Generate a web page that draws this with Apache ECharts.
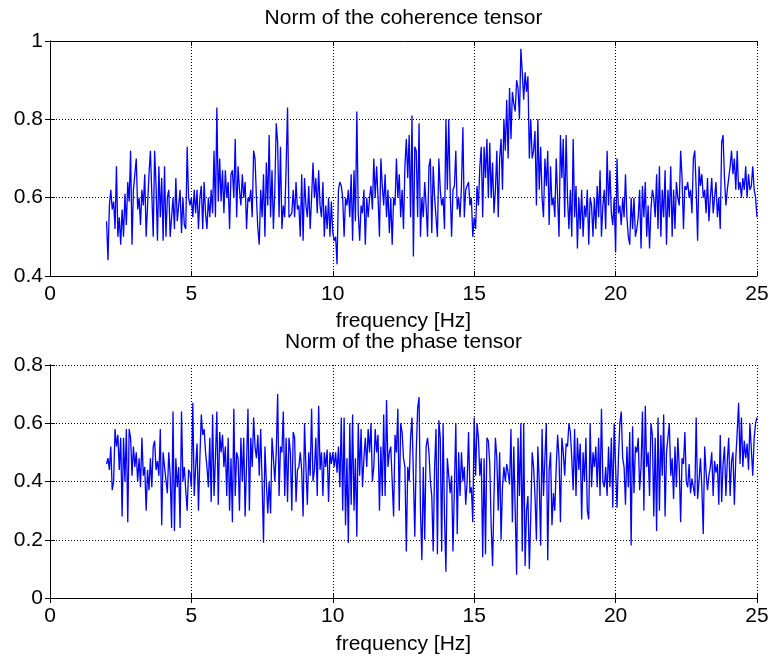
<!DOCTYPE html>
<html>
<head>
<meta charset="utf-8">
<script src="https://cdn.jsdelivr.net/npm/echarts@6/dist/echarts.min.js"></script>
<style>
  html, body { margin: 0; padding: 0; background: #fff; }
  #chart { width: 772px; height: 664px; }
</style>
</head>
<body>
<div id="chart"></div>
<script>
// ============================================================
// Norm of the coherence / phase tensor vs frequency
// samples every 0.05 Hz from 2 Hz to 25 Hz (one row = 1 Hz)
// ============================================================

var FREQ_START = 2;
var FREQ_STEP = 0.05;

var X_TICKS = [0, 5, 10, 15, 20, 25];
var COH_Y_TICKS = [0.4, 0.6, 0.8, 1];
var PHASE_Y_TICKS = [0, 0.2, 0.4, 0.6, 0.8];

var cohNorm = [
  0.54, 0.44, 0.58, 0.62, 0.57, 0.59, 0.52, 0.68, 0.50, 0.55, 0.48, 0.57, 0.50, 0.61, 0.53, 0.64, 0.59, 0.72, 0.48, 0.62,
  0.62, 0.70, 0.57, 0.60, 0.53, 0.62, 0.58, 0.66, 0.50, 0.58, 0.66, 0.72, 0.72, 0.50, 0.72, 0.63, 0.49, 0.68, 0.55, 0.65,
  0.49, 0.68, 0.50, 0.60, 0.62, 0.50, 0.55, 0.60, 0.52, 0.65, 0.54, 0.58, 0.62, 0.51, 0.60, 0.53, 0.52, 0.73, 0.60, 0.58,
  0.60, 0.55, 0.62, 0.56, 0.62, 0.52, 0.60, 0.63, 0.52, 0.64, 0.56, 0.52, 0.60, 0.55, 0.62, 0.56, 0.72, 0.55, 0.83, 0.59,
  0.70, 0.59, 0.67, 0.56, 0.67, 0.60, 0.64, 0.52, 0.66, 0.67, 0.60, 0.75, 0.55, 0.68, 0.62, 0.58, 0.66, 0.60, 0.64, 0.52,
  0.60, 0.59, 0.62, 0.55, 0.72, 0.70, 0.60, 0.52, 0.48, 0.62, 0.55, 0.66, 0.50, 0.69, 0.58, 0.76, 0.55, 0.67, 0.52, 0.62,
  0.79, 0.74, 0.55, 0.73, 0.52, 0.58, 0.55, 0.68, 0.83, 0.55, 0.55, 0.56, 0.62, 0.55, 0.64, 0.57, 0.58, 0.50, 0.66, 0.49,
  0.65, 0.58, 0.55, 0.63, 0.52, 0.60, 0.69, 0.60, 0.65, 0.56, 0.67, 0.58, 0.55, 0.64, 0.50, 0.58, 0.52, 0.60, 0.50, 0.59,
  0.51, 0.49, 0.50, 0.43, 0.62, 0.64, 0.63, 0.60, 0.50, 0.60, 0.58, 0.62, 0.55, 0.66, 0.49, 0.67, 0.54, 0.82, 0.56, 0.49,
  0.58, 0.56, 0.62, 0.48, 0.60, 0.55, 0.60, 0.63, 0.57, 0.70, 0.60, 0.68, 0.60, 0.50, 0.70, 0.63, 0.58, 0.66, 0.55, 0.62,
  0.51, 0.60, 0.48, 0.60, 0.58, 0.70, 0.60, 0.66, 0.55, 0.62, 0.52, 0.68, 0.75, 0.65, 0.76, 0.55, 0.81, 0.45, 0.73, 0.72,
  0.55, 0.79, 0.50, 0.60, 0.55, 0.64, 0.58, 0.50, 0.68, 0.70, 0.51, 0.68, 0.60, 0.55, 0.50, 0.70, 0.62, 0.58, 0.60, 0.52,
  0.80, 0.62, 0.80, 0.62, 0.50, 0.62, 0.63, 0.72, 0.57, 0.60, 0.55, 0.63, 0.78, 0.55, 0.62, 0.62, 0.64, 0.58, 0.60, 0.50,
  0.55, 0.52, 0.63, 0.58, 0.68, 0.73, 0.55, 0.73, 0.65, 0.75, 0.60, 0.74, 0.60, 0.69, 0.56, 0.62, 0.72, 0.55, 0.70, 0.75,
  0.62, 0.80, 0.72, 0.85, 0.70, 0.88, 0.75, 0.87, 0.84, 0.82, 0.90, 0.88, 0.80, 0.98, 0.92, 0.85, 0.92, 0.87, 0.91, 0.70,
  0.80, 0.70, 0.72, 0.77, 0.58, 0.80, 0.62, 0.73, 0.60, 0.55, 0.70, 0.63, 0.72, 0.53, 0.68, 0.58, 0.60, 0.55, 0.70, 0.60,
  0.50, 0.76, 0.65, 0.75, 0.55, 0.76, 0.60, 0.52, 0.62, 0.50, 0.75, 0.55, 0.63, 0.47, 0.60, 0.52, 0.62, 0.50, 0.58, 0.55,
  0.62, 0.48, 0.60, 0.58, 0.50, 0.60, 0.52, 0.63, 0.55, 0.67, 0.50, 0.58, 0.62, 0.52, 0.72, 0.58, 0.67, 0.56, 0.53, 0.60,
  0.46, 0.70, 0.56, 0.58, 0.53, 0.60, 0.55, 0.66, 0.55, 0.50, 0.48, 0.60, 0.52, 0.60, 0.50, 0.52, 0.55, 0.62, 0.47, 0.63,
  0.55, 0.64, 0.50, 0.58, 0.47, 0.57, 0.62, 0.60, 0.55, 0.66, 0.52, 0.68, 0.50, 0.62, 0.55, 0.67, 0.48, 0.62, 0.55, 0.68,
  0.50, 0.62, 0.52, 0.64, 0.60, 0.58, 0.72, 0.65, 0.52, 0.63, 0.62, 0.64, 0.60, 0.62, 0.56, 0.70, 0.72, 0.62, 0.49, 0.68,
  0.63, 0.66, 0.60, 0.62, 0.56, 0.65, 0.54, 0.60, 0.65, 0.56, 0.60, 0.64, 0.55, 0.60, 0.52, 0.74, 0.76, 0.65, 0.58, 0.62,
  0.65, 0.68, 0.72, 0.66, 0.70, 0.62, 0.72, 0.62, 0.64, 0.60, 0.65, 0.62, 0.68, 0.60, 0.66, 0.62, 0.63, 0.68, 0.62, 0.60,
  0.55
];

var phaseNorm = [
  0.46, 0.48, 0.44, 0.52, 0.37, 0.40, 0.58, 0.52, 0.56, 0.44, 0.55, 0.28, 0.55, 0.40, 0.58, 0.26, 0.58, 0.55, 0.42, 0.52,
  0.45, 0.50, 0.40, 0.48, 0.38, 0.55, 0.42, 0.45, 0.30, 0.44, 0.37, 0.48, 0.38, 0.52, 0.54, 0.44, 0.47, 0.42, 0.58, 0.25,
  0.50, 0.45, 0.45, 0.36, 0.50, 0.42, 0.24, 0.64, 0.23, 0.48, 0.38, 0.45, 0.24, 0.64, 0.40, 0.45, 0.37, 0.30, 0.44, 0.43,
  0.38, 0.67, 0.35, 0.45, 0.53, 0.30, 0.48, 0.63, 0.56, 0.58, 0.50, 0.45, 0.38, 0.55, 0.33, 0.63, 0.35, 0.48, 0.64, 0.32,
  0.57, 0.50, 0.56, 0.45, 0.52, 0.35, 0.55, 0.30, 0.48, 0.26, 0.65, 0.35, 0.50, 0.48, 0.30, 0.55, 0.40, 0.55, 0.28, 0.46,
  0.65, 0.30, 0.55, 0.45, 0.62, 0.52, 0.48, 0.56, 0.42, 0.58, 0.40, 0.19, 0.52, 0.40, 0.29, 0.40, 0.29, 0.55, 0.48, 0.40,
  0.50, 0.70, 0.35, 0.52, 0.50, 0.64, 0.35, 0.55, 0.33, 0.55, 0.50, 0.30, 0.57, 0.55, 0.33, 0.44, 0.45, 0.50, 0.44, 0.28,
  0.60, 0.45, 0.32, 0.50, 0.42, 0.65, 0.40, 0.44, 0.55, 0.35, 0.66, 0.44, 0.50, 0.35, 0.50, 0.45, 0.51, 0.33, 0.50, 0.46,
  0.50, 0.45, 0.50, 0.43, 0.52, 0.38, 0.62, 0.30, 0.62, 0.25, 0.48, 0.19, 0.60, 0.32, 0.63, 0.30, 0.48, 0.21, 0.60, 0.42,
  0.58, 0.38, 0.48, 0.55, 0.45, 0.58, 0.50, 0.60, 0.40, 0.45, 0.58, 0.50, 0.56, 0.30, 0.52, 0.35, 0.63, 0.35, 0.68, 0.45,
  0.50, 0.52, 0.40, 0.28, 0.56, 0.50, 0.65, 0.30, 0.60, 0.57, 0.48, 0.45, 0.16, 0.45, 0.40, 0.55, 0.62, 0.42, 0.21, 0.50,
  0.65, 0.69, 0.30, 0.13, 0.45, 0.20, 0.52, 0.55, 0.50, 0.40, 0.35, 0.16, 0.45, 0.58, 0.15, 0.61, 0.55, 0.16, 0.60, 0.28,
  0.09, 0.48, 0.48, 0.36, 0.42, 0.16, 0.38, 0.60, 0.22, 0.50, 0.35, 0.50, 0.40, 0.45, 0.32, 0.40, 0.57, 0.36, 0.38, 0.26,
  0.62, 0.42, 0.60, 0.55, 0.42, 0.48, 0.14, 0.48, 0.15, 0.55, 0.54, 0.46, 0.25, 0.11, 0.35, 0.55, 0.48, 0.30, 0.50, 0.20,
  0.38, 0.45, 0.40, 0.46, 0.43, 0.39, 0.58, 0.26, 0.52, 0.30, 0.08, 0.55, 0.35, 0.60, 0.16, 0.60, 0.11, 0.30, 0.35, 0.10,
  0.28, 0.50, 0.45, 0.35, 0.20, 0.52, 0.40, 0.18, 0.58, 0.35, 0.48, 0.60, 0.13, 0.44, 0.50, 0.25, 0.36, 0.30, 0.45, 0.56,
  0.48, 0.26, 0.55, 0.50, 0.42, 0.53, 0.52, 0.60, 0.57, 0.48, 0.37, 0.58, 0.35, 0.55, 0.44, 0.53, 0.27, 0.50, 0.40, 0.55,
  0.30, 0.27, 0.60, 0.38, 0.50, 0.45, 0.52, 0.38, 0.55, 0.35, 0.65, 0.40, 0.38, 0.45, 0.35, 0.52, 0.38, 0.55, 0.31, 0.60,
  0.45, 0.31, 0.48, 0.60, 0.64, 0.48, 0.45, 0.32, 0.52, 0.38, 0.57, 0.18, 0.59, 0.36, 0.52, 0.50, 0.55, 0.37, 0.45, 0.64,
  0.30, 0.66, 0.45, 0.50, 0.35, 0.60, 0.56, 0.28, 0.55, 0.23, 0.62, 0.30, 0.56, 0.42, 0.63, 0.28, 0.50, 0.55, 0.60, 0.42,
  0.48, 0.34, 0.52, 0.38, 0.55, 0.45, 0.26, 0.48, 0.46, 0.57, 0.40, 0.38, 0.46, 0.36, 0.41, 0.38, 0.35, 0.62, 0.34, 0.40,
  0.48, 0.38, 0.22, 0.52, 0.43, 0.37, 0.42, 0.45, 0.50, 0.35, 0.47, 0.43, 0.46, 0.32, 0.56, 0.33, 0.46, 0.52, 0.35, 0.47,
  0.55, 0.35, 0.47, 0.50, 0.32, 0.48, 0.57, 0.67, 0.46, 0.62, 0.45, 0.54, 0.48, 0.53, 0.44, 0.60, 0.51, 0.42, 0.55, 0.60,
  0.62
];

var FONT = '"Liberation Sans", Arial, Helvetica, sans-serif';
var FONT_SIZE = 21;
var LINE_COLOR = '#0000ff';

// plot boxes (pixels), matched to the figure
var BOXES = [
  { left: 50, top: 41, width: 707, height: 235 },
  { left: 50, top: 365, width: 707, height: 233 }
];

function toPairs(values) {
  return values.map(function(v, i) {
    return [Math.round((FREQ_START + i * FREQ_STEP) * 100) / 100, v];
  });
}

function makeXAxes(gridIndex) {
  var tick = { show: true, inside: true, length: 5, lineStyle: { color: '#000', width: 1 } };
  var base = {
    gridIndex: gridIndex,
    type: 'value',
    min: X_TICKS[0],
    max: X_TICKS[X_TICKS.length - 1],
    interval: X_TICKS[1] - X_TICKS[0]
  };
  return [
    Object.assign({}, base, {
      position: 'bottom',
      axisLine: { show: true, lineStyle: { color: '#000', width: 1 } },
      axisTick: tick,
      axisLabel: { color: '#000', fontSize: FONT_SIZE, fontFamily: FONT, margin: 8 },
      splitLine: { show: true, lineStyle: { color: '#000', width: 1, type: [1, 2] } }
    }),
    Object.assign({}, base, {
      position: 'top',
      axisLine: { show: true, lineStyle: { color: '#000', width: 1 } },
      axisTick: tick,
      axisLabel: { show: false },
      splitLine: { show: false }
    })
  ];
}

function makeYAxes(gridIndex, ticks) {
  var tick = { show: true, inside: true, length: 5, lineStyle: { color: '#000', width: 1 } };
  var base = {
    gridIndex: gridIndex,
    type: 'value',
    min: ticks[0],
    max: ticks[ticks.length - 1],
    interval: 0.2
  };
  return [
    Object.assign({}, base, {
      position: 'left',
      axisLine: { show: true, lineStyle: { color: '#000', width: 1 } },
      axisTick: tick,
      axisLabel: {
        color: '#000', fontSize: FONT_SIZE, fontFamily: FONT, margin: 7,
        formatter: function(v) { return String(Math.round(v * 10) / 10); }
      },
      splitLine: { show: true, lineStyle: { color: '#000', width: 1, type: [1, 2] } }
    }),
    Object.assign({}, base, {
      position: 'right',
      axisLine: { show: true, lineStyle: { color: '#000', width: 1 } },
      axisTick: tick,
      axisLabel: { show: false },
      splitLine: { show: false }
    })
  ];
}

function makeText(x, y, text) {
  return {
    type: 'text',
    x: x,
    y: y,
    style: {
      text: text,
      fill: '#000',
      font: FONT_SIZE + 'px ' + FONT,
      textAlign: 'center',
      textVerticalAlign: 'middle'
    },
    silent: true
  };
}

var chart = echarts.init(document.getElementById('chart'), null, { renderer: 'canvas' });
var centerX = BOXES[0].left + BOXES[0].width / 2;

chart.setOption({
  animation: false,
  backgroundColor: '#fff',
  grid: BOXES.map(function(b) {
    return { left: b.left, top: b.top, width: b.width, height: b.height, containLabel: false };
  }),
  xAxis: makeXAxes(0).concat(makeXAxes(1)),
  yAxis: makeYAxes(0, COH_Y_TICKS).concat(makeYAxes(1, PHASE_Y_TICKS)),
  series: [
    {
      name: 'Norm of the coherence tensor',
      type: 'line',
      xAxisIndex: 0,
      yAxisIndex: 0,
      data: toPairs(cohNorm),
      showSymbol: false,
      symbol: 'none',
      lineStyle: { color: LINE_COLOR, width: 1.3 },
      itemStyle: { color: LINE_COLOR }
    },
    {
      name: 'Norm of the phase tensor',
      type: 'line',
      xAxisIndex: 2,
      yAxisIndex: 2,
      data: toPairs(phaseNorm),
      showSymbol: false,
      symbol: 'none',
      lineStyle: { color: LINE_COLOR, width: 1.3 },
      itemStyle: { color: LINE_COLOR }
    }
  ],
  graphic: [
    makeText(centerX, 18, 'Norm of the coherence tensor'),
    makeText(centerX, 321, 'frequency [Hz]'),
    makeText(centerX, 342, 'Norm of the phase tensor'),
    makeText(centerX, 644, 'frequency [Hz]')
  ]
});
</script>
</body>
</html>
